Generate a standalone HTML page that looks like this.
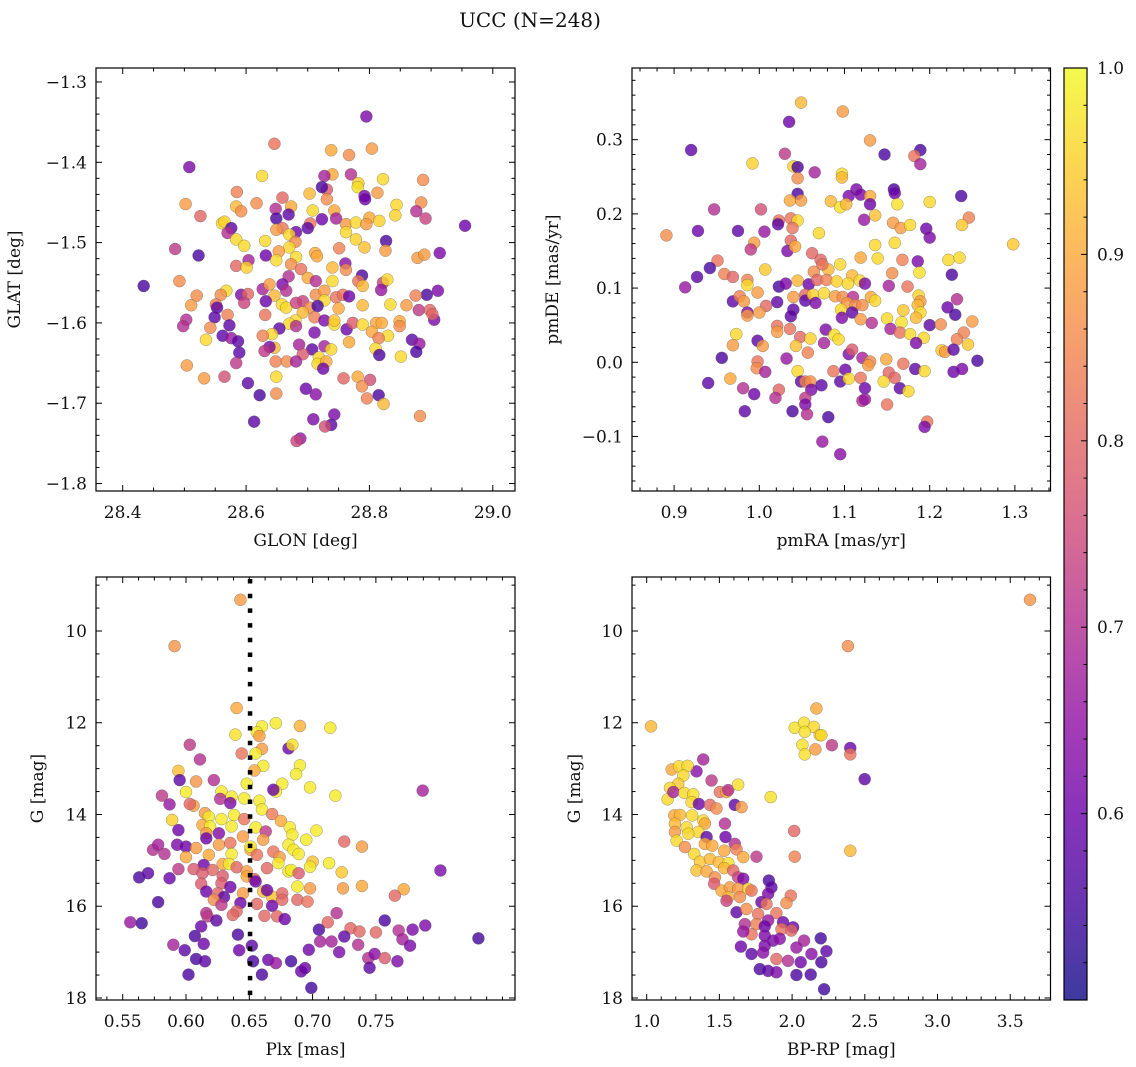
<!DOCTYPE html>
<html>
<head>
<meta charset="utf-8">
<style>
  html,body{margin:0;padding:0;background:#fff;}
  svg{display:block;font-family:"DejaVu Serif","Liberation Serif",serif;}
</style>
</head>
<body>
<svg id="fig" width="1136" height="1067" viewBox="0 0 1136 1067" xmlns="http://www.w3.org/2000/svg">
  <rect x="0" y="0" width="1136" height="1067" fill="#fff"/>
  <text x="530" y="27" font-size="20" text-anchor="middle" fill="#111">UCC (N=248)</text>
</svg>
<script>
// ---------- Panel 1: GLON vs GLAT ----------
const tlGlon = [28.795,28.646,28.738,28.804,28.767,28.508,28.626,28.740,28.727,28.770,
28.822,28.782,28.781,28.887,28.585,28.703,28.731,28.723,28.813,28.792,
28.793,28.502,28.617,28.659,28.673,28.584,28.592,28.731,28.884,28.844,
28.526,28.648,28.669,28.649,28.708,28.743,28.842,28.876,28.891,28.561,
28.565,28.576,28.570,28.659,28.649,28.681,28.704,28.700,28.723,28.746,
28.762,28.778,28.800,28.795,28.816,28.955,28.762,28.670,28.680,28.584,
28.597,28.631,28.670,28.653,28.778,28.792,28.827,28.826,28.751,28.712,
28.715,28.485,28.523,28.632,28.604,28.649,28.681,28.878,28.889,28.914,
28.584,28.601,28.673,28.689,28.740,28.761,28.762,28.788,28.669,28.700,
28.713,28.740,28.782,28.789,28.822,28.829,28.819,28.492,28.434,28.568,
28.559,28.592,28.603,28.627,28.638,28.646,28.659,28.665,28.692,28.713,
28.727,28.727,28.746,28.757,28.767,28.893,28.911,28.875,28.520,28.511,
28.551,28.553,28.597,28.632,28.658,28.665,28.681,28.703,28.716,28.750,
28.789,28.834,28.860,28.880,28.898,28.549,28.570,28.503,28.498,28.573,
28.631,28.692,28.680,28.670,28.681,28.711,28.727,28.743,28.743,28.763,
28.773,28.789,28.811,28.820,28.849,28.849,28.905,28.902,28.542,28.654,
28.642,28.627,28.562,28.576,28.587,28.535,28.711,28.804,28.830,28.815,
28.869,28.881,28.876,28.767,28.646,28.638,28.630,28.686,28.707,28.727,
28.738,28.810,28.816,28.851,28.589,28.584,28.648,28.666,28.692,28.681,
28.718,28.716,28.730,28.725,28.504,28.532,28.565,28.603,28.649,28.649,
28.622,28.697,28.713,28.758,28.781,28.801,28.788,28.815,28.823,28.796,
28.882,28.613,28.709,28.743,28.738,28.728,28.688,28.682];
const tlGlat = [-1.343,-1.377,-1.385,-1.383,-1.391,-1.406,-1.417,-1.415,-1.417,-1.415,
-1.421,-1.426,-1.431,-1.422,-1.437,-1.439,-1.434,-1.431,-1.438,-1.442,
-1.446,-1.452,-1.451,-1.444,-1.455,-1.455,-1.461,-1.446,-1.450,-1.453,
-1.467,-1.458,-1.465,-1.470,-1.460,-1.460,-1.466,-1.461,-1.470,-1.476,
-1.474,-1.482,-1.488,-1.482,-1.484,-1.487,-1.476,-1.482,-1.471,-1.470,
-1.477,-1.475,-1.469,-1.477,-1.473,-1.479,-1.487,-1.490,-1.499,-1.496,
-1.504,-1.498,-1.506,-1.511,-1.496,-1.506,-1.498,-1.510,-1.507,-1.513,
-1.517,-1.508,-1.516,-1.516,-1.522,-1.522,-1.518,-1.519,-1.515,-1.513,
-1.529,-1.531,-1.527,-1.533,-1.531,-1.526,-1.534,-1.541,-1.542,-1.544,
-1.548,-1.548,-1.548,-1.554,-1.550,-1.546,-1.559,-1.548,-1.554,-1.560,
-1.565,-1.565,-1.564,-1.558,-1.552,-1.566,-1.552,-1.560,-1.573,-1.565,
-1.560,-1.572,-1.568,-1.565,-1.567,-1.565,-1.560,-1.566,-1.566,-1.578,
-1.577,-1.581,-1.575,-1.573,-1.577,-1.581,-1.575,-1.581,-1.579,-1.582,
-1.578,-1.577,-1.578,-1.584,-1.584,-1.593,-1.590,-1.596,-1.604,-1.603,
-1.590,-1.587,-1.597,-1.601,-1.604,-1.593,-1.597,-1.602,-1.597,-1.608,
-1.600,-1.602,-1.600,-1.600,-1.598,-1.604,-1.596,-1.589,-1.606,-1.607,
-1.614,-1.616,-1.616,-1.619,-1.623,-1.621,-1.612,-1.611,-1.616,-1.619,
-1.621,-1.626,-1.636,-1.624,-1.631,-1.630,-1.635,-1.627,-1.633,-1.629,
-1.633,-1.632,-1.640,-1.642,-1.637,-1.650,-1.648,-1.648,-1.639,-1.648,
-1.643,-1.651,-1.648,-1.657,-1.653,-1.669,-1.667,-1.675,-1.667,-1.688,
-1.690,-1.682,-1.689,-1.669,-1.667,-1.671,-1.679,-1.690,-1.701,-1.694,
-1.716,-1.723,-1.720,-1.714,-1.727,-1.729,-1.744,-1.747];
const tlProb = [.62,.82,.9,.88,.86,.62,.96,.9,.68,.7,
.96,.95,.97,.86,.84,.92,.78,.56,.88,.62,
.6,.88,.86,.8,.9,.92,.86,.86,.86,.96,
.8,.7,.58,.56,.96,.9,.95,.7,.74,.96,
.95,.58,.7,.82,.88,.6,.82,.58,.6,.68,
.88,.96,.9,.88,.95,.6,.96,.96,.86,.96,
.96,.96,.96,.88,.95,.93,.56,.88,.84,.9,
.9,.72,.56,.6,.68,.96,.96,.88,.88,.62,
.8,.95,.86,.82,.92,.64,.86,.56,.7,.9,
.7,.96,.82,.92,.74,.96,.66,.86,.56,.96,
.86,.62,.8,.68,.88,.92,.62,.7,.74,.86,
.88,.96,.82,.82,.6,.56,.62,.84,.86,.88,
.84,.58,.74,.6,.96,.96,.74,.86,.56,.9,
.92,.96,.88,.72,.8,.58,.84,.7,.7,.58,
.82,.92,.96,.96,.7,.84,.62,.96,.94,.6,
.78,.96,.9,.9,.9,.86,.62,.8,.86,.58,
.96,.84,.58,.66,.58,.96,.62,.9,.96,.84,
.58,.66,.56,.9,.92,.62,.72,.68,.58,.68,
.96,.96,.56,.96,.58,.72,.84,.86,.78,.68,
.96,.96,.9,.6,.88,.88,.76,.58,.96,.86,
.56,.6,.64,.8,.9,.76,.86,.56,.92,.84,
.86,.58,.62,.62,.58,.76,.66,.74];
const tlXTicks = [28.4,28.6,28.8,29.0];
const tlXLabels = ["28.4","28.6","28.8","29.0"];
const tlYTicks = [-1.3,-1.4,-1.5,-1.6,-1.7,-1.8];
const tlYLabels = ["\u22121.3","\u22121.4","\u22121.5","\u22121.6","\u22121.7","\u22121.8"];

// ---------- Panel 2: pmRA vs pmDE ----------
const trPmra = [1.049,1.098,1.035,0.920,1.130,1.147,1.189,1.182,1.189,1.030,
0.992,1.040,1.045,1.065,1.097,1.097,1.045,1.045,1.036,1.049,
1.114,1.105,1.119,1.130,1.130,1.084,1.095,1.102,1.158,1.159,
1.162,1.200,1.237,0.947,1.002,1.136,1.123,1.023,1.037,1.045,
1.022,1.039,0.891,0.928,0.975,1.006,1.070,1.157,1.166,1.177,
1.196,1.200,1.246,1.238,0.994,0.990,1.037,1.033,1.042,1.136,
1.159,1.298,1.062,1.072,1.119,1.139,1.168,1.186,1.222,1.235,
0.951,0.942,0.927,0.959,0.969,0.913,1.007,1.064,1.081,1.074,
1.095,1.156,1.188,1.226,0.986,0.986,1.023,1.031,1.045,1.058,
1.068,1.079,1.091,1.109,1.104,1.118,1.124,1.152,1.174,0.998,
0.969,0.977,0.982,1.021,1.040,1.054,1.054,1.063,1.066,1.076,
1.089,1.098,1.110,1.103,1.113,1.121,1.131,1.136,1.187,1.189,
1.186,1.232,1.008,0.986,0.986,1.000,1.040,1.037,1.096,1.097,
1.109,1.169,1.189,1.184,1.221,1.230,1.119,1.132,1.150,1.167,
1.154,1.165,1.177,1.193,1.184,1.200,1.213,1.250,1.240,1.232,
1.245,1.021,1.021,1.036,0.973,0.969,0.998,1.004,1.048,1.060,
1.078,1.088,1.093,1.076,1.043,1.057,0.956,0.998,0.997,1.007,
1.032,1.105,1.109,1.121,1.130,1.128,1.149,1.169,1.214,1.218,
1.228,1.256,1.183,1.194,1.228,1.238,0.940,0.966,1.045,1.049,
1.054,1.060,1.087,1.101,1.095,1.105,1.119,1.152,1.159,1.146,
1.124,1.165,1.175,0.981,0.994,1.023,1.019,1.061,1.054,1.073,
1.121,1.124,1.150,1.197,1.194,0.983,1.039,1.054,1.056,1.081,
1.074,1.095];
const trPmde = [0.350,0.338,0.324,0.286,0.299,0.280,0.286,0.278,0.267,0.281,
0.268,0.264,0.263,0.256,0.254,0.249,0.248,0.227,0.218,0.218,
0.233,0.224,0.226,0.224,0.213,0.217,0.209,0.213,0.233,0.228,
0.213,0.216,0.224,0.206,0.206,0.198,0.192,0.191,0.194,0.191,
0.186,0.181,0.171,0.177,0.177,0.176,0.174,0.188,0.181,0.185,
0.180,0.168,0.195,0.185,0.161,0.152,0.164,0.150,0.156,0.158,
0.161,0.159,0.147,0.138,0.141,0.140,0.138,0.136,0.138,0.141,
0.137,0.127,0.115,0.119,0.115,0.101,0.125,0.122,0.125,0.132,
0.132,0.120,0.121,0.118,0.111,0.104,0.102,0.106,0.110,0.105,
0.111,0.111,0.109,0.117,0.106,0.110,0.106,0.103,0.102,0.094,
0.082,0.089,0.082,0.081,0.088,0.091,0.083,0.091,0.080,0.093,
0.089,0.088,0.088,0.080,0.077,0.077,0.088,0.083,0.090,0.082,
0.077,0.085,0.076,0.067,0.063,0.067,0.071,0.062,0.071,0.060,
0.067,0.070,0.067,0.060,0.074,0.064,0.058,0.053,0.059,0.054,
0.045,0.040,0.038,0.033,0.026,0.050,0.051,0.055,0.040,0.031,
0.024,0.049,0.041,0.045,0.038,0.023,0.029,0.022,0.034,0.032,
0.044,0.037,0.031,0.026,0.022,0.013,0.006,0.001,-0.008,-0.013,
0.005,0.011,0.017,0.006,0.001,-0.004,0.004,-0.002,0.016,0.014,
0.017,0.002,-0.009,-0.012,-0.013,-0.009,-0.028,-0.022,-0.012,-0.026,
-0.026,-0.026,-0.012,-0.010,-0.026,-0.022,-0.021,-0.014,-0.021,-0.026,
-0.035,-0.035,-0.039,-0.035,-0.043,-0.037,-0.048,-0.037,-0.048,-0.031,
-0.052,-0.050,-0.057,-0.080,-0.087,-0.066,-0.066,-0.057,-0.070,-0.074,
-0.107,-0.124];
const trProb = [.92,.88,.6,.58,.88,.56,.56,.82,.68,.72,
.95,.95,.56,.68,.97,.92,.86,.56,.9,.88,
.62,.62,.62,.9,.6,.92,.97,.92,.56,.6,
.97,.96,.56,.7,.76,.93,.66,.82,.82,.96,
.58,.82,.86,.6,.58,.66,.96,.88,.88,.96,
.6,.62,.84,.94,.88,.72,.8,.62,.9,.96,
.96,.94,.8,.8,.9,.96,.84,.62,.96,.96,
.82,.56,.58,.84,.8,.66,.94,.86,.92,.82,
.96,.86,.97,.56,.84,.96,.56,.62,.92,.6,
.8,.84,.95,.92,.96,.96,.62,.68,.82,.88,
.58,.84,.88,.58,.88,.8,.58,.95,.62,.96,
.88,.86,.7,.88,.86,.86,.9,.96,.95,.88,
.92,.7,.8,.62,.88,.88,.58,.58,.96,.62,
.58,.94,.96,.92,.6,.56,.88,.7,.96,.97,
.68,.82,.96,.96,.62,.58,.86,.88,.84,.84,
.94,.82,.88,.82,.96,.88,.58,.88,.8,.95,
.62,.97,.96,.68,.93,.84,.56,.82,.86,.68,
.66,.62,.78,.68,.86,.88,.9,.82,.94,.88,
.58,.56,.58,.96,.6,.62,.58,.9,.96,.58,
.84,.86,.82,.6,.58,.96,.82,.8,.8,.96,
.6,.58,.96,.7,.6,.8,.7,.62,.72,.58,
.7,.66,.82,.82,.62,.58,.56,.62,.7,.56,
.66,.64];
const trXTicks = [0.9,1.0,1.1,1.2,1.3];
const trXLabels = ["0.9","1.0","1.1","1.2","1.3"];
const trYTicks = [0.3,0.2,0.1,0.0,-0.1];
const trYLabels = ["0.3","0.2","0.1","0.0","\u22120.1"];

// ---------- Panel 3: Plx vs G ----------
const blPlx = [0.643,0.591,0.640,0.639,0.660,0.656,0.671,0.690,0.714,0.658,
0.603,0.644,0.660,0.681,0.684,0.655,0.611,0.661,0.654,0.690,
0.687,0.594,0.595,0.608,0.622,0.648,0.676,0.671,0.669,0.698,
0.718,0.787,0.600,0.581,0.587,0.628,0.636,0.646,0.627,0.635,
0.658,0.660,0.606,0.603,0.615,0.618,0.589,0.594,0.628,0.638,
0.646,0.668,0.675,0.613,0.619,0.636,0.655,0.663,0.682,0.684,
0.703,0.695,0.725,0.739,0.616,0.626,0.616,0.574,0.578,0.583,
0.593,0.600,0.608,0.626,0.635,0.645,0.651,0.651,0.661,0.681,
0.685,0.689,0.600,0.618,0.636,0.656,0.669,0.674,0.673,0.700,
0.698,0.713,0.614,0.629,0.634,0.640,0.594,0.606,0.621,0.648,
0.664,0.681,0.683,0.689,0.723,0.801,0.563,0.570,0.587,0.613,
0.629,0.648,0.654,0.655,0.612,0.628,0.635,0.688,0.698,0.724,
0.739,0.772,0.765,0.616,0.625,0.630,0.645,0.661,0.668,0.664,
0.676,0.622,0.643,0.656,0.668,0.676,0.688,0.696,0.578,0.628,
0.640,0.637,0.616,0.617,0.662,0.672,0.678,0.719,0.624,0.556,
0.565,0.612,0.712,0.757,0.789,0.730,0.705,0.737,0.750,0.768,
0.779,0.607,0.641,0.706,0.715,0.725,0.771,0.777,0.831,0.590,
0.614,0.652,0.736,0.599,0.642,0.697,0.721,0.744,0.749,0.757,
0.767,0.608,0.615,0.653,0.665,0.671,0.683,0.691,0.694,0.745,
0.602,0.660,0.699];
const blG = [9.32,10.33,11.68,12.26,12.08,12.21,12.01,12.07,12.11,12.29,
12.48,12.67,12.57,12.56,12.48,12.67,12.80,12.94,13.04,12.93,
13.12,13.05,13.25,13.28,13.25,13.33,13.33,13.50,13.46,13.41,
13.59,13.48,13.51,13.59,13.78,13.50,13.61,13.65,13.66,13.75,
13.70,13.89,13.81,13.77,13.97,14.05,14.12,14.34,14.10,14.01,
14.10,13.99,14.14,14.23,14.26,14.26,14.28,14.37,14.28,14.44,
14.35,14.55,14.59,14.70,14.41,14.41,14.52,14.77,14.66,14.86,
14.66,14.70,14.73,14.66,14.62,14.48,14.77,14.70,14.55,14.66,
14.77,14.86,14.93,14.88,14.86,14.88,14.81,14.93,15.06,15.03,
15.14,15.06,15.10,15.08,15.08,15.15,15.19,15.19,15.21,15.24,
15.17,15.24,15.21,15.28,15.26,15.22,15.37,15.28,15.39,15.28,
15.34,15.35,15.41,15.46,15.51,15.50,15.58,15.57,15.61,15.61,
15.56,15.63,15.77,15.68,15.72,15.80,15.72,15.68,15.79,15.65,
15.72,15.86,15.93,15.95,15.99,15.86,15.86,15.90,15.91,15.97,
16.11,16.19,16.15,16.22,16.21,16.22,16.28,16.15,16.31,16.35,
16.37,16.44,16.35,16.31,16.42,16.48,16.51,16.55,16.57,16.53,
16.51,16.65,16.62,16.77,16.77,16.66,16.72,16.86,16.70,16.84,
16.82,16.86,16.84,16.96,16.96,16.95,17.00,17.13,17.04,17.13,
17.20,17.15,17.20,17.20,17.17,17.24,17.20,17.42,17.35,17.34,
17.49,17.49,17.78];
const blProb = [.88,.87,.9,.97,.98,.98,.98,.91,.98,.88,
.72,.82,.88,.6,.97,.98,.7,.98,.9,.98,
.98,.93,.58,.87,.7,.98,.98,.98,.6,.98,
.98,.68,.98,.72,.66,.98,.98,.98,.7,.62,
.98,.98,.88,.8,.88,.98,.95,.6,.98,.98,
.82,.83,.9,.9,.98,.98,.98,.72,.98,.98,
.98,.98,.8,.88,.88,.63,.6,.7,.68,.7,
.62,.6,.88,.88,.82,.88,.9,.98,.88,.98,
.98,.98,.9,.9,.98,.82,.82,.88,.98,.93,
.98,.98,.6,.9,.98,.8,.72,.78,.8,.88,
.8,.98,.98,.78,.94,.62,.56,.58,.6,.78,
.78,.9,.8,.6,.78,.78,.6,.98,.88,.88,
.9,.9,.8,.6,.8,.58,.88,.93,.93,.6,
.8,.86,.6,.8,.6,.8,.8,.82,.56,.72,
.8,.8,.7,.72,.8,.8,.6,.7,.58,.66,
.55,.6,.8,.56,.62,.8,.56,.8,.8,.7,
.62,.56,.56,.68,.68,.58,.68,.62,.55,.68,
.6,.58,.7,.58,.6,.6,.62,.7,.64,.78,
.62,.56,.58,.56,.6,.66,.55,.6,.6,.58,
.56,.56,.55];
const blXTicks = [0.55,0.60,0.65,0.70,0.75];
const blXLabels = ["0.55","0.60","0.65","0.70","0.75"];
const blYTicks = [10,12,14,16,18];
const blYLabels = ["10","12","14","16","18"];
const blPlxRef = [0.6506];

// ---------- Panel 4: BP-RP vs G ----------
const brBprp = [3.636,2.384,2.167,1.030,2.018,2.082,2.149,2.087,2.190,2.201,
2.071,2.087,2.160,2.274,2.400,2.400,2.499,1.853,2.014,2.018,
2.400,1.389,1.343,1.172,1.222,1.281,1.252,1.217,1.160,1.144,
1.183,1.259,1.320,1.309,1.359,1.446,1.503,1.549,1.561,1.629,
1.606,1.652,1.435,1.480,1.190,1.229,1.313,1.389,1.400,1.194,
1.275,1.355,1.286,1.194,1.538,1.412,1.542,1.206,1.263,1.327,
1.400,1.451,1.533,1.606,1.618,1.664,1.755,1.366,1.435,1.496,
1.561,1.343,1.412,1.469,1.533,1.595,1.629,1.664,1.464,1.515,
1.572,1.561,1.629,1.698,1.721,1.549,1.641,1.840,1.858,1.835,
1.789,1.991,1.961,1.618,1.686,1.766,1.824,1.892,1.835,1.675,
1.755,1.812,1.938,2.007,1.927,1.995,1.721,1.664,1.812,1.869,
1.812,1.915,2.082,2.197,1.648,1.721,1.801,1.892,1.972,2.030,
2.059,2.133,2.236,2.201,1.778,1.835,1.892,2.030,2.128,2.220];
const brG = [9.32,10.33,11.69,12.08,12.11,12.00,12.09,12.20,12.27,12.27,
12.48,12.69,12.58,12.49,12.55,12.69,13.23,13.62,14.36,14.92,
14.79,12.80,13.06,13.02,12.95,12.94,13.15,13.33,13.42,13.67,
13.51,13.53,13.56,13.73,13.77,13.26,13.51,13.51,13.47,13.35,
13.79,13.84,13.79,13.87,14.02,14.01,14.02,14.13,14.20,14.20,
14.28,14.38,14.42,14.38,14.20,14.49,14.49,14.57,14.71,14.86,
14.64,14.68,14.79,14.64,14.76,14.93,14.92,15.03,14.97,15.04,
15.06,15.22,15.24,15.37,15.17,15.22,15.37,15.40,15.51,15.66,
15.59,15.80,15.62,15.62,15.66,15.88,15.80,15.44,15.59,15.73,
15.91,15.77,15.93,16.13,16.06,16.17,15.95,16.15,16.31,16.39,
16.39,16.44,16.35,16.46,16.50,16.53,16.61,16.55,16.64,16.75,
16.86,16.71,16.75,16.70,16.88,17.04,17.01,17.15,17.19,16.90,
17.22,17.04,16.98,17.22,17.37,17.41,17.44,17.50,17.49,17.81];
const brProb = [.87,.86,.9,.92,.97,.97,.96,.97,.95,.96,
.97,.97,.88,.72,.6,.82,.58,.97,.8,.84,
.92,.68,.64,.9,.96,.96,.96,.94,.96,.96,
.68,.96,.97,.96,.6,.72,.82,.9,.7,.97,
.58,.88,.8,.86,.9,.92,.96,.96,.9,.92,
.96,.96,.96,.88,.7,.58,.6,.96,.86,.96,
.9,.9,.9,.7,.84,.9,.72,.94,.92,.92,
.97,.93,.9,.86,.92,.8,.74,.62,.78,.9,
.88,.92,.88,.95,.82,.74,.86,.56,.58,.62,
.6,.82,.86,.58,.86,.82,.82,.82,.66,.7,
.84,.6,.6,.6,.82,.8,.82,.66,.62,.62,
.62,.64,.68,.55,.6,.58,.64,.8,.7,.66,
.6,.64,.58,.56,.56,.58,.62,.56,.56,.55];
const brXTicks = [1.0,1.5,2.0,2.5,3.0,3.5];
const brXLabels = ["1.0","1.5","2.0","2.5","3.0","3.5"];
const brYTicks = [10,12,14,16,18];
const brYLabels = ["10","12","14","16","18"];

// ---------- Colorbar ----------
const cbTicks = [1.0,0.9,0.8,0.7,0.6];
const cbLabels = ["1.0","0.9","0.8","0.7","0.6"];
const cbMin = [0.5];
const cbMax = [1.0];

// ================= drawing =================
const NS = "http://www.w3.org/2000/svg";
const svg = document.getElementById('fig');
const plasmaStops = [[13,8,135],[65,4,157],[106,0,168],[143,13,164],[177,42,144],[204,71,120],[225,100,98],[242,132,75],[252,166,54],[252,206,37],[240,249,33]];
function plasma(t){
  t = Math.max(0, Math.min(1, t));
  const f = t*10, i = Math.min(9, Math.floor(f)), r = f - i;
  const a = plasmaStops[i], b = plasmaStops[i+1];
  return 'rgb(' + [0,1,2].map(k => Math.round(a[k] + (b[k]-a[k])*r)).join(',') + ')';
}
function colorOf(p){ return plasma((p - cbMin[0])/(cbMax[0]-cbMin[0])); }
function el(tag, attrs, parent){
  const e = document.createElementNS(NS, tag);
  for (const k in attrs) e.setAttribute(k, attrs[k]);
  (parent || svg).appendChild(e);
  return e;
}
function linScale(d0, d1, r0, r1){ return v => r0 + (v - d0)/(d1 - d0)*(r1 - r0); }

function drawPanel(name, box, xd, yd, xt, xl, yt, yl, xMinor, yMinor, xs, ys, ps, xlabel, ylabel, ylabelX){
  const g = el('g', {});
  
  
  const sx = linScale(xd[0], xd[1], box.x0, box.x1);
  const sy = linScale(yd[0], yd[1], box.y0, box.y1);
  const pg = el('g', {}, g);
  
  
  for (let i = 0; i < xs.length; i++){
    const c = el('circle', {cx: sx(xs[i]).toFixed(2), cy: sy(ys[i]).toFixed(2), r: 6, fill: colorOf(ps[i]), 'fill-opacity': 0.8, stroke: '#555', 'stroke-width': 0.5, 'stroke-opacity': 0.6}, pg);
    
    
  }
  const tg = el('g', {stroke: '#000', 'stroke-width': 1}, g);
  
  
  const lo = Math.min(xd[0], xd[1]), hi = Math.max(xd[0], xd[1]);
  const start = Math.ceil((lo - 1e-9)/xMinor)*xMinor;
  for (let v = start; v <= hi + 1e-9; v += xMinor){
    const X = sx(v);
    const isMajor = xt.some(t => Math.abs(t - v) < xMinor*0.1);
    const L = isMajor ? 6 : 3.5;
    el('line', {x1: X, x2: X, y1: box.y1, y2: box.y1 - L}, tg);
    el('line', {x1: X, x2: X, y1: box.y0, y2: box.y0 + L}, tg);
  }
  const ylo = Math.min(yd[0], yd[1]), yhi = Math.max(yd[0], yd[1]);
  const ystart = Math.ceil((ylo - 1e-9)/yMinor)*yMinor;
  for (let v = ystart; v <= yhi + 1e-9; v += yMinor){
    const Y = sy(v);
    const isMajor = yt.some(t => Math.abs(t - v) < yMinor*0.1);
    const L = isMajor ? 6 : 3.5;
    el('line', {x1: box.x0, x2: box.x0 + L, y1: Y, y2: Y}, tg);
    el('line', {x1: box.x1, x2: box.x1 - L, y1: Y, y2: Y}, tg);
  }
  const fr = el('rect', {x: box.x0, y: box.y0, width: box.x1 - box.x0, height: box.y1 - box.y0, fill: 'none', stroke: '#000', 'stroke-width': 1.2}, g);
  
  
  for (let i = 0; i < xt.length; i++){
    const t = el('text', {x: sx(xt[i]), y: box.y1 + 27, 'font-size': 17, 'text-anchor': 'middle', fill: '#111'}, g);
    t.textContent = xl[i];
    
    
  }
  for (let i = 0; i < yt.length; i++){
    const t = el('text', {x: box.x0 - 9, y: sy(yt[i]) + 6, 'font-size': 17, 'text-anchor': 'end', fill: '#111'}, g);
    t.textContent = yl[i];
    
    
  }
  const xlT = el('text', {x: (box.x0 + box.x1)/2, y: box.y1 + 55, 'font-size': 17, 'text-anchor': 'middle', fill: '#111'}, g);
  xlT.textContent = xlabel;
  
  
  const cy = (box.y0 + box.y1)/2;
  const ylT = el('text', {x: ylabelX, y: cy, 'font-size': 17, 'text-anchor': 'middle', fill: '#111', transform: 'rotate(-90 ' + ylabelX + ' ' + cy + ')'}, g);
  ylT.textContent = ylabel;
  
  
  return {sx, sy, g};
}

const boxTL = {x0: 96, x1: 515, y0: 68, y1: 491};
const boxTR = {x0: 632, x1: 1050.5, y0: 68, y1: 491};
const boxBL = {x0: 96, x1: 515, y0: 577, y1: 1000};
const boxBR = {x0: 632, x1: 1050.5, y0: 577, y1: 1000};

drawPanel('glon-glat-panel', boxTL, [28.3567, 29.036], [-1.2826, -1.8093], tlXTicks, tlXLabels, tlYTicks, tlYLabels, 0.05, 0.02, tlGlon, tlGlat, tlProb, 'GLON [deg]', 'GLAT [deg]', 20);
drawPanel('pm-panel', boxTR, [0.8506, 1.3418], [0.3966, -0.1735], trXTicks, trXLabels, trYTicks, trYLabels, 0.02, 0.02, trPmra, trPmde, trProb, 'pmRA [mas/yr]', 'pmDE [mas/yr]', 558);
const bl = drawPanel('plx-g-panel', boxBL, [0.5289, 0.8599], [8.823, 18.044], blXTicks, blXLabels, blYTicks, blYLabels, 0.0125, 0.5, blPlx, blG, blProb, 'Plx [mas]', 'G [mag]', 43);
drawPanel('cmd-panel', boxBR, [0.899, 3.777], [8.823, 18.044], brXTicks, brXLabels, brYTicks, brYLabels, 0.1, 0.5, brBprp, brG, brProb, 'BP-RP [mag]', 'G [mag]', 580);

const refX = bl.sx(blPlxRef[0]);
const dl = el('line', {x1: refX, x2: refX, y1: boxBL.y0 + 2, y2: boxBL.y1, stroke: '#000', 'stroke-width': 4.5, 'stroke-dasharray': '4.5 10.2'}, bl.g);



const cb = {x0: 1064, x1: 1087, y0: 68, y1: 1000};
const cbg = el('g', {});


const defs = el('defs', {}, svg);
const grad = el('linearGradient', {id: 'cbgrad', x1: 0, y1: 1, x2: 0, y2: 0}, defs);
for (let i = 0; i <= 20; i++){
  el('stop', {offset: (i/20), 'stop-color': plasma(i/20), 'stop-opacity': 0.8}, grad);
}
const cbr = el('rect', {x: cb.x0, y: cb.y0, width: cb.x1 - cb.x0, height: cb.y1 - cb.y0, fill: 'url(#cbgrad)', stroke: '#000', 'stroke-width': 1.2}, cbg);


const cs = linScale(cbMin[0], cbMax[0], cb.y1, cb.y0);
for (let v = 0.52; v <= 1.0001; v += 0.02){
  const Y = cs(v);
  const major = cbTicks.some(t => Math.abs(t - v) < 0.002);
  el('line', {x1: cb.x1, x2: cb.x1 - (major ? 6 : 3.5), y1: Y, y2: Y, stroke: '#000', 'stroke-width': 1}, cbg);
}
for (let i = 0; i < cbTicks.length; i++){
  const t = el('text', {x: cb.x1 + 10, y: cs(cbTicks[i]) + 6, 'font-size': 17, fill: '#111'}, cbg);
  t.textContent = cbLabels[i];
  
  
}
</script>
</body>
</html>
